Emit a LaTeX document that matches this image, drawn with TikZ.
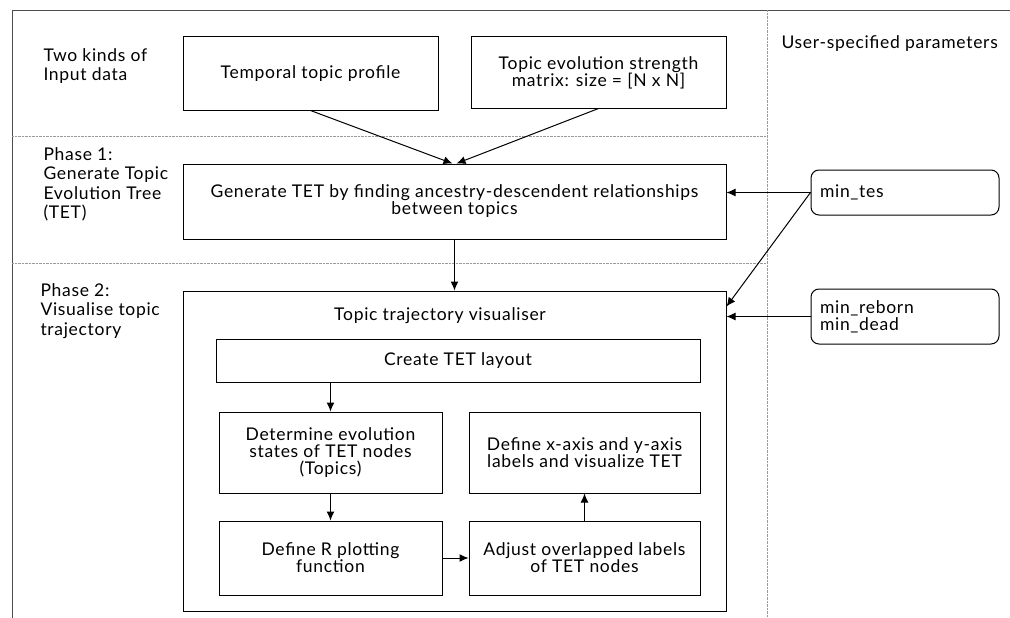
\documentclass[tikz,border=0pt]{standalone}
\usepackage{fontspec}
\setmainfont{Lato}[LetterSpace=4]
\usetikzlibrary{arrows.meta, positioning}

\begin{document}
\begin{tikzpicture}[
                > = {Latex[length=9pt, width=8pt]}, % arrow head style
                x = 1pt, y = -1pt, % one unit per pixel, y downwards
                font = \fontsize{17.5}{17}\selectfont,
                line width = 1pt % line style
            ]

            \tikzstyle{every node}=[
            inner sep = 0pt
            ]
            \tikzstyle{stage}=[draw = black, rectangle, align = center]
            \tikzstyle{param}=[draw = black, rounded corners = 8pt, align = left,
            text width = 170pt, inner xsep = 9pt, minimum height = 45pt]
            \tikzstyle{phase}=[anchor = north west, align = left,
            font = \fontsize{17.5}{19.5}\selectfont]
            \tikzstyle{divider}=[gray!80, densely dotted, thin]

            \useasboundingbox (0,0) rectangle (1010,618);

            % frame and dividers
            \draw[gray!60!black, semithick] (12,618) -- (12,10) -- (1010,10);
            \draw[divider] (12,136) -- (767,136);
            \draw[divider] (12,263) -- (767,263);
            \draw[divider] (767,10) -- (767,618);

            % row labels
            \node[phase] (input) at (43,48) {Two kinds of\\Input data};
            \node[phase] (phase1) at (43,147) {Phase 1:\\Generate Topic\\Evolution Tree\\(TET)};
            \node[phase] (phase2) at (40,283) {Phase 2:\\Visualise topic\\trajectory};
            \node[phase, anchor = west] (user) at (781,44) {User-specified parameters};

            % input data
            \node[stage, minimum width = 255pt, minimum height = 73pt] (profile) at (310.5,73.5) {Temporal topic profile};
            \node[stage, minimum width = 255pt, minimum height = 71pt] (matrix) at (598.5,72.5) {Topic evolution strength\\matrix: size = [N x N]};

            % phase 1
            \node[stage, minimum width = 543pt, minimum height = 75pt] (tet) at (454.5,201.5) {Generate TET by finding ancestry-descendent relationships\\between topics};

            % phase 2
            \node[stage, minimum width = 543pt, minimum height = 320pt] (visual) at (454.5,451) {};
            \node (title) at (440,316) {Topic trajectory visualiser};
            \node[stage, minimum width = 484pt, minimum height = 43pt] (layout) at (458,360.5) {Create TET layout};
            \node[stage, minimum width = 223pt, minimum height = 81pt] (states) at (330.5,452.5) {Determine evolution\\states of TET nodes\\(Topics)};
            \node[stage, minimum width = 231pt, minimum height = 81pt] (axes) at (584.5,452.5) {Define x-axis and y-axis\\labels and visualize TET};
            \node[stage, minimum width = 223pt, minimum height = 74pt] (plotting) at (330.5,558) {Define R plotting\\function};
            \node[stage, minimum width = 231pt, minimum height = 74pt] (overlap) at (584.5,558) {Adjust overlapped labels\\of TET nodes};

            % parameters
            \node[param] (mintes) at (905,192.5) {min\_tes};
            \node[param, minimum height = 55pt] (minreborn) at (905,316.5) {min\_reborn\\min\_dead};

            \draw[->] (profile.south) -- ([xshift=-2pt]tet.north);
            \draw[->] (matrix.south) -- ([xshift=2pt]tet.north);
            \draw[->] (tet) -- (visual);
            \draw[->] (layout.south -| states.north) -- (states);
            \draw[->] (states) -- (plotting);
            \draw[->] (plotting) -- (overlap);
            \draw[->] (overlap) -- (axes);
            \draw[->] (mintes.west) -- (mintes.west -| tet.east);
            \draw[->] (mintes.west) -- ([yshift=-16pt]visual.north east);
            \draw[->] (minreborn.west) -- (minreborn.west -| visual.east);
        \end{tikzpicture}
\end{document}
